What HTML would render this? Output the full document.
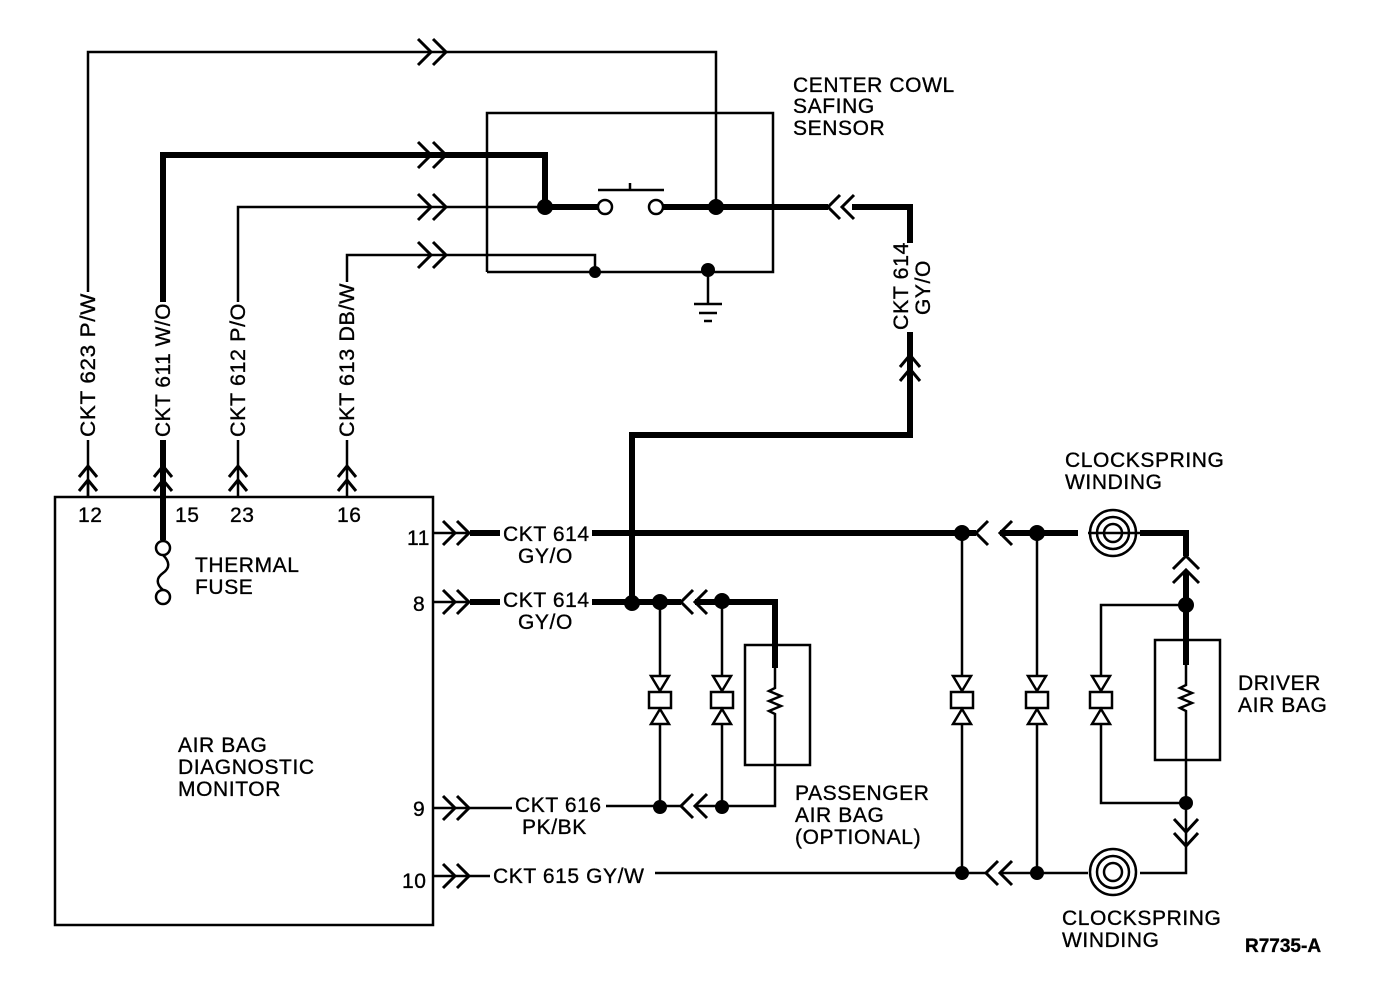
<!DOCTYPE html>
<html><head><meta charset="utf-8"><style>
html,body{margin:0;padding:0;background:#fff}
svg{display:block}
text{font-family:"Liberation Sans",sans-serif;font-size:21px;letter-spacing:0.6px;fill:#000;stroke:#000;stroke-width:0.35}
</style></head><body>
<svg width="1376" height="1006" viewBox="0 0 1376 1006" xmlns="http://www.w3.org/2000/svg">
<g fill="none" stroke="#000" stroke-width="2.5" stroke-linejoin="miter">
<rect x="55" y="497" width="378" height="428"/>
<polyline points="487,272 773,272 773,113 487,113 487,272"/>
<polyline points="88,497 88,440"/>
<polyline points="88,292 88,52 716,52 716,207"/>
<polyline points="238,497 238,440"/>
<polyline points="238,302 238,207 545,207"/>
<polyline points="347,497 347,440"/>
<polyline points="347,282 347,255 595,255 595,272"/>
<line x1="708" y1="272" x2="708" y2="303"/>
<line x1="694" y1="304" x2="722" y2="304"/>
<line x1="699" y1="313" x2="717" y2="313"/>
<line x1="704" y1="321" x2="712" y2="321"/>
<circle cx="605" cy="207" r="7"/>
<circle cx="656" cy="207" r="7"/>
<line x1="598" y1="190" x2="664" y2="190"/>
<line x1="630" y1="190" x2="630" y2="183"/>
<g stroke-width="3">
<polyline points="418,39 431,52 418,65"/><polyline points="433,39 446,52 433,65"/>
<polyline points="418,142 431,155 418,168"/><polyline points="433,142 446,155 433,168"/>
<polyline points="418,194 431,207 418,220"/><polyline points="433,194 446,207 433,220"/>
<polyline points="418,242 431,255 418,268"/><polyline points="433,242 446,255 433,268"/>
<polyline points="79,477 88,466 97,477"/><polyline points="79,491 88,480 97,491"/>
<polyline points="154,477 163,466 172,477"/><polyline points="154,491 163,480 172,491"/>
<polyline points="229,477 238,466 247,477"/><polyline points="229,491 238,480 247,491"/>
<polyline points="338,477 347,466 356,477"/><polyline points="338,491 347,480 356,491"/>
<polyline points="443,521 455,533 443,545"/><polyline points="457,521 469,533 457,545"/>
<polyline points="443,590 455,602 443,614"/><polyline points="457,590 469,602 457,614"/>
<polyline points="443,796 455,808 443,820"/><polyline points="457,796 469,808 457,820"/>
<polyline points="443,864 455,876 443,888"/><polyline points="457,864 469,876 457,888"/>
<polyline points="693,794 681,806 693,818"/><polyline points="707,794 695,806 707,818"/>
<polyline points="998,861 986,873 998,885"/><polyline points="1012,861 1000,873 1012,885"/>
<polyline points="1174,819 1186,832 1198,819"/><polyline points="1174,833 1186,846 1198,833"/>
<polyline points="1173,569 1186,556 1199,569"/><polyline points="1173,583 1186,570 1199,583"/>
<polyline points="900,367 910,355 920,367"/><polyline points="900,381 910,369 920,381"/>
<polyline points="840,195 828,207 840,219"/><polyline points="854,195 842,207 854,219"/>
<polyline points="988,521 976,533 988,545"/><polyline points="1012,521 1000,533 1012,545"/>
<polyline points="693,590 681,602 693,614"/><polyline points="707,590 695,602 707,614"/>
</g>
<line x1="88" y1="480" x2="88" y2="497"/>
<line x1="433" y1="533" x2="470" y2="533"/>
<line x1="433" y1="602" x2="470" y2="602"/>
<line x1="433" y1="808" x2="512" y2="808"/>
<line x1="433" y1="876" x2="490" y2="876"/>
<polyline points="606,806 681,806"/>
<polyline points="695,806 775,806 775,765"/>
<line x1="655" y1="873" x2="986" y2="873"/>
<polyline points="1000,873 1088,873"/>
<line x1="660" y1="602" x2="660" y2="806"/>
<line x1="722" y1="602" x2="722" y2="806"/>
<rect x="745" y="645" width="65" height="120"/>
<polyline points="775,668 775,688 769,691 781,696 769,701 781,706 769,711 775,714 775,765"/>
<line x1="962" y1="533" x2="962" y2="873"/>
<line x1="1037" y1="533" x2="1037" y2="873"/>
<polyline points="1186,605 1101,605 1101,803 1186,803"/>
<rect x="1155" y="640" width="65" height="120"/>
<polyline points="1186,665 1186,685 1180,688 1192,693 1180,698 1192,703 1180,708 1186,711 1186,803"/>
<polyline points="1186,803 1186,873 1140,873"/>
<line x1="1088" y1="533" x2="1140" y2="533"/>
<circle cx="1113" cy="533" r="23"/><circle cx="1113" cy="533" r="16"/><circle cx="1113" cy="533" r="9"/>
<circle cx="1113" cy="872" r="23"/><circle cx="1113" cy="872" r="16"/><circle cx="1113" cy="872" r="9"/>
<circle cx="163" cy="548" r="7"/>
<circle cx="163" cy="597" r="7"/>
<path d="M163,555 C170,562 170,568 163,573 C156,578 156,584 163,590"/>
</g>
<g fill="none" stroke="#000" stroke-width="6" stroke-linejoin="miter">
<polyline points="163,302 163,155 545,155 545,207 598,207"/>
<polyline points="663,207 828,207"/>
<polyline points="852,207 910,207 910,243"/>
<polyline points="910,332 910,435 632,435 632,602"/>
<line x1="163" y1="440" x2="163" y2="540"/>
<line x1="470" y1="533" x2="500" y2="533"/>
<line x1="592" y1="533" x2="976" y2="533"/>
<line x1="1000" y1="533" x2="1078" y2="533"/>
<line x1="470" y1="602" x2="500" y2="602"/>
<line x1="592" y1="602" x2="681" y2="602"/>
<polyline points="695,602 775,602 775,668"/>
<polyline points="1140,533 1186,533 1186,556"/>
<polyline points="1186,572 1186,665"/>
</g>
<g fill="#000">
<circle cx="545" cy="207" r="8"/><circle cx="716" cy="207" r="8"/>
<circle cx="595" cy="272" r="6"/><circle cx="708" cy="270" r="7"/>
<circle cx="632" cy="603" r="8"/><circle cx="660" cy="602" r="8"/><circle cx="722" cy="601" r="8"/>
<circle cx="660" cy="807" r="7"/><circle cx="722" cy="807" r="7"/>
<circle cx="962" cy="533" r="8"/><circle cx="1037" cy="533" r="8"/>
<circle cx="962" cy="873" r="7"/><circle cx="1037" cy="873" r="7"/>
<circle cx="1186" cy="605" r="8"/><circle cx="1186" cy="803" r="7"/>
</g>
<g fill="#fff" stroke="#000" stroke-width="2.5">
<g transform="translate(660,700)"><polygon points="-9,-24 9,-24 0,-9"/><rect x="-11" y="-8" width="22" height="16"/><polygon points="-9,24 9,24 0,9"/></g>
<g transform="translate(722,700)"><polygon points="-9,-24 9,-24 0,-9"/><rect x="-11" y="-8" width="22" height="16"/><polygon points="-9,24 9,24 0,9"/></g>
<g transform="translate(962,700)"><polygon points="-9,-24 9,-24 0,-9"/><rect x="-11" y="-8" width="22" height="16"/><polygon points="-9,24 9,24 0,9"/></g>
<g transform="translate(1037,700)"><polygon points="-9,-24 9,-24 0,-9"/><rect x="-11" y="-8" width="22" height="16"/><polygon points="-9,24 9,24 0,9"/></g>
<g transform="translate(1101,700)"><polygon points="-9,-24 9,-24 0,-9"/><rect x="-11" y="-8" width="22" height="16"/><polygon points="-9,24 9,24 0,9"/></g>
</g>
<text transform="translate(95,437) rotate(-90)" textLength="144" lengthAdjust="spacingAndGlyphs">CKT 623 P/W</text>
<text transform="translate(170,437) rotate(-90)" textLength="134" lengthAdjust="spacingAndGlyphs">CKT 611 W/O</text>
<text transform="translate(245,437) rotate(-90)" textLength="134" lengthAdjust="spacingAndGlyphs">CKT 612 P/O</text>
<text transform="translate(354,437) rotate(-90)" textLength="154" lengthAdjust="spacingAndGlyphs">CKT 613 DB/W</text>
<text transform="translate(908,330) rotate(-90)" textLength="88" lengthAdjust="spacingAndGlyphs">CKT 614</text>
<text transform="translate(930,315) rotate(-90)">GY/O</text>
<text x="793" y="92">CENTER COWL</text>
<text x="793" y="113">SAFING</text>
<text x="793" y="135">SENSOR</text>
<text x="1065" y="467">CLOCKSPRING</text>
<text x="1065" y="489">WINDING</text>
<text x="1062" y="925">CLOCKSPRING</text>
<text x="1062" y="947">WINDING</text>
<text x="1238" y="690">DRIVER</text>
<text x="1238" y="712">AIR BAG</text>
<text x="795" y="800">PASSENGER</text>
<text x="795" y="822">AIR BAG</text>
<text x="795" y="844">(OPTIONAL)</text>
<text x="1245" y="952" style="font-weight:bold;font-size:19px;letter-spacing:0">R7735-A</text>
<text x="178" y="752">AIR BAG</text>
<text x="178" y="774">DIAGNOSTIC</text>
<text x="178" y="796">MONITOR</text>
<text x="195" y="572">THERMAL</text>
<text x="195" y="594">FUSE</text>
<text x="78" y="522">12</text>
<text x="175" y="522">15</text>
<text x="230" y="522">23</text>
<text x="337" y="522">16</text>
<text x="407" y="545">11</text>
<text x="413" y="611">8</text>
<text x="413" y="816">9</text>
<text x="402" y="888">10</text>
<text x="503" y="541">CKT 614</text>
<text x="518" y="563">GY/O</text>
<text x="503" y="607">CKT 614</text>
<text x="518" y="629">GY/O</text>
<text x="515" y="812">CKT 616</text>
<text x="522" y="834">PK/BK</text>
<text x="493" y="883">CKT 615 GY/W</text>
</svg>
</body></html>
